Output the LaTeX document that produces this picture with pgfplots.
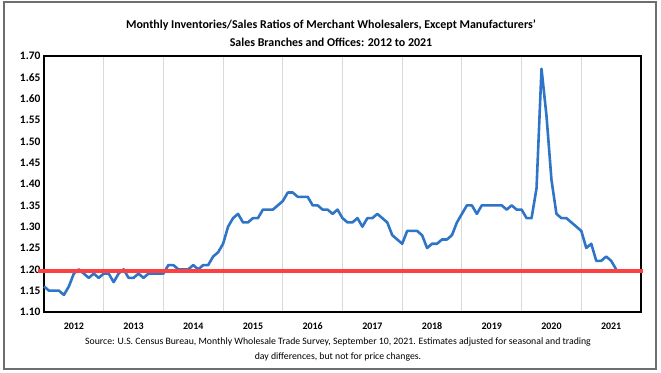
\documentclass[border=0pt]{standalone}
\usepackage{pgfplots}
\pgfplotsset{compat=1.18}
\usepackage{fontspec}
\setmainfont{Carlito}
\definecolor{lineblue}{RGB}{46,117,200}
\definecolor{linered}{RGB}{255,64,64}
\definecolor{gridgray}{RGB}{217,217,217}
\definecolor{framegray}{RGB}{110,110,110}
\begin{document}
\begin{tikzpicture}[x=1bp,y=1bp]
\useasboundingbox (-44,-60) rectangle (617,312);
\draw[framegray, line width=1.2bp] (-40,-57) rectangle (612,310);
\node[font=\fontsize{12}{14}\selectfont\bfseries] at (287,287) {Monthly Inventories/Sales Ratios of Merchant Wholesalers, Except Manufacturers’};
\node[font=\fontsize{12}{14}\selectfont\bfseries] at (287,270) {Sales Branches and Offices: 2012 to 2021};
\node[font=\fontsize{9.8}{11}\selectfont] at (294,-30) {Source: U.S. Census Bureau, Monthly Wholesale Trade Survey, September 10, 2021. Estimates adjusted for seasonal and trading};
\node[font=\fontsize{9.8}{11}\selectfont] at (294,-45) {day differences, but not for price changes.};
\begin{axis}[
  at={(0,0)}, anchor=south west,
  scale only axis, width=597bp, height=256bp,
  xmin=0, xmax=120, ymin=1.10, ymax=1.70,
  clip=false,
  axis line style={black, line width=1.2bp},
  ytick={1.10,1.15,...,1.71},
  yticklabel style={font=\fontsize{11.5}{13}\selectfont\bfseries, /pgf/number format/fixed, /pgf/number format/fixed zerofill, /pgf/number format/precision=2, /pgf/number format/assume math mode=true},
  scaled y ticks=false,
  xtick={12,24,...,108}, xticklabels={},
  xmajorgrids, major grid style={gridgray, line width=1bp},
  major tick length=0pt,
  extra x ticks={6,18,...,114},
  extra x tick labels={2012,2013,2014,2015,2016,2017,2018,2019,2020,2021},
  extra x tick style={grid=none, major tick length=0pt, tick label style={font=\fontsize{10}{12}\selectfont\bfseries, yshift=-7bp}},
]
\addplot[lineblue, line width=2.6bp, line join=round] table {
x y
0 1.16
1 1.15
2 1.15
3 1.15
4 1.14
5 1.16
6 1.19
7 1.20
8 1.19
9 1.18
10 1.19
11 1.18
12 1.19
13 1.19
14 1.17
15 1.19
16 1.20
17 1.18
18 1.18
19 1.19
20 1.18
21 1.19
22 1.19
23 1.19
24 1.19
25 1.21
26 1.21
27 1.20
28 1.20
29 1.20
30 1.21
31 1.20
32 1.21
33 1.21
34 1.23
35 1.24
36 1.26
37 1.30
38 1.32
39 1.33
40 1.31
41 1.31
42 1.32
43 1.32
44 1.34
45 1.34
46 1.34
47 1.35
48 1.36
49 1.38
50 1.38
51 1.37
52 1.37
53 1.37
54 1.35
55 1.35
56 1.34
57 1.34
58 1.33
59 1.34
60 1.32
61 1.31
62 1.31
63 1.32
64 1.30
65 1.32
66 1.32
67 1.33
68 1.32
69 1.31
70 1.28
71 1.27
72 1.26
73 1.29
74 1.29
75 1.29
76 1.28
77 1.25
78 1.26
79 1.26
80 1.27
81 1.27
82 1.28
83 1.31
84 1.33
85 1.35
86 1.35
87 1.33
88 1.35
89 1.35
90 1.35
91 1.35
92 1.35
93 1.34
94 1.35
95 1.34
96 1.34
97 1.32
98 1.32
99 1.39
100 1.67
101 1.56
102 1.41
103 1.33
104 1.32
105 1.32
106 1.31
107 1.30
108 1.29
109 1.25
110 1.26
111 1.22
112 1.22
113 1.23
114 1.22
115 1.20
};
\addplot[linered, line width=4.5bp] coordinates {(-1.2,1.196) (120.4,1.196)};
\end{axis}
\end{tikzpicture}
\end{document}
